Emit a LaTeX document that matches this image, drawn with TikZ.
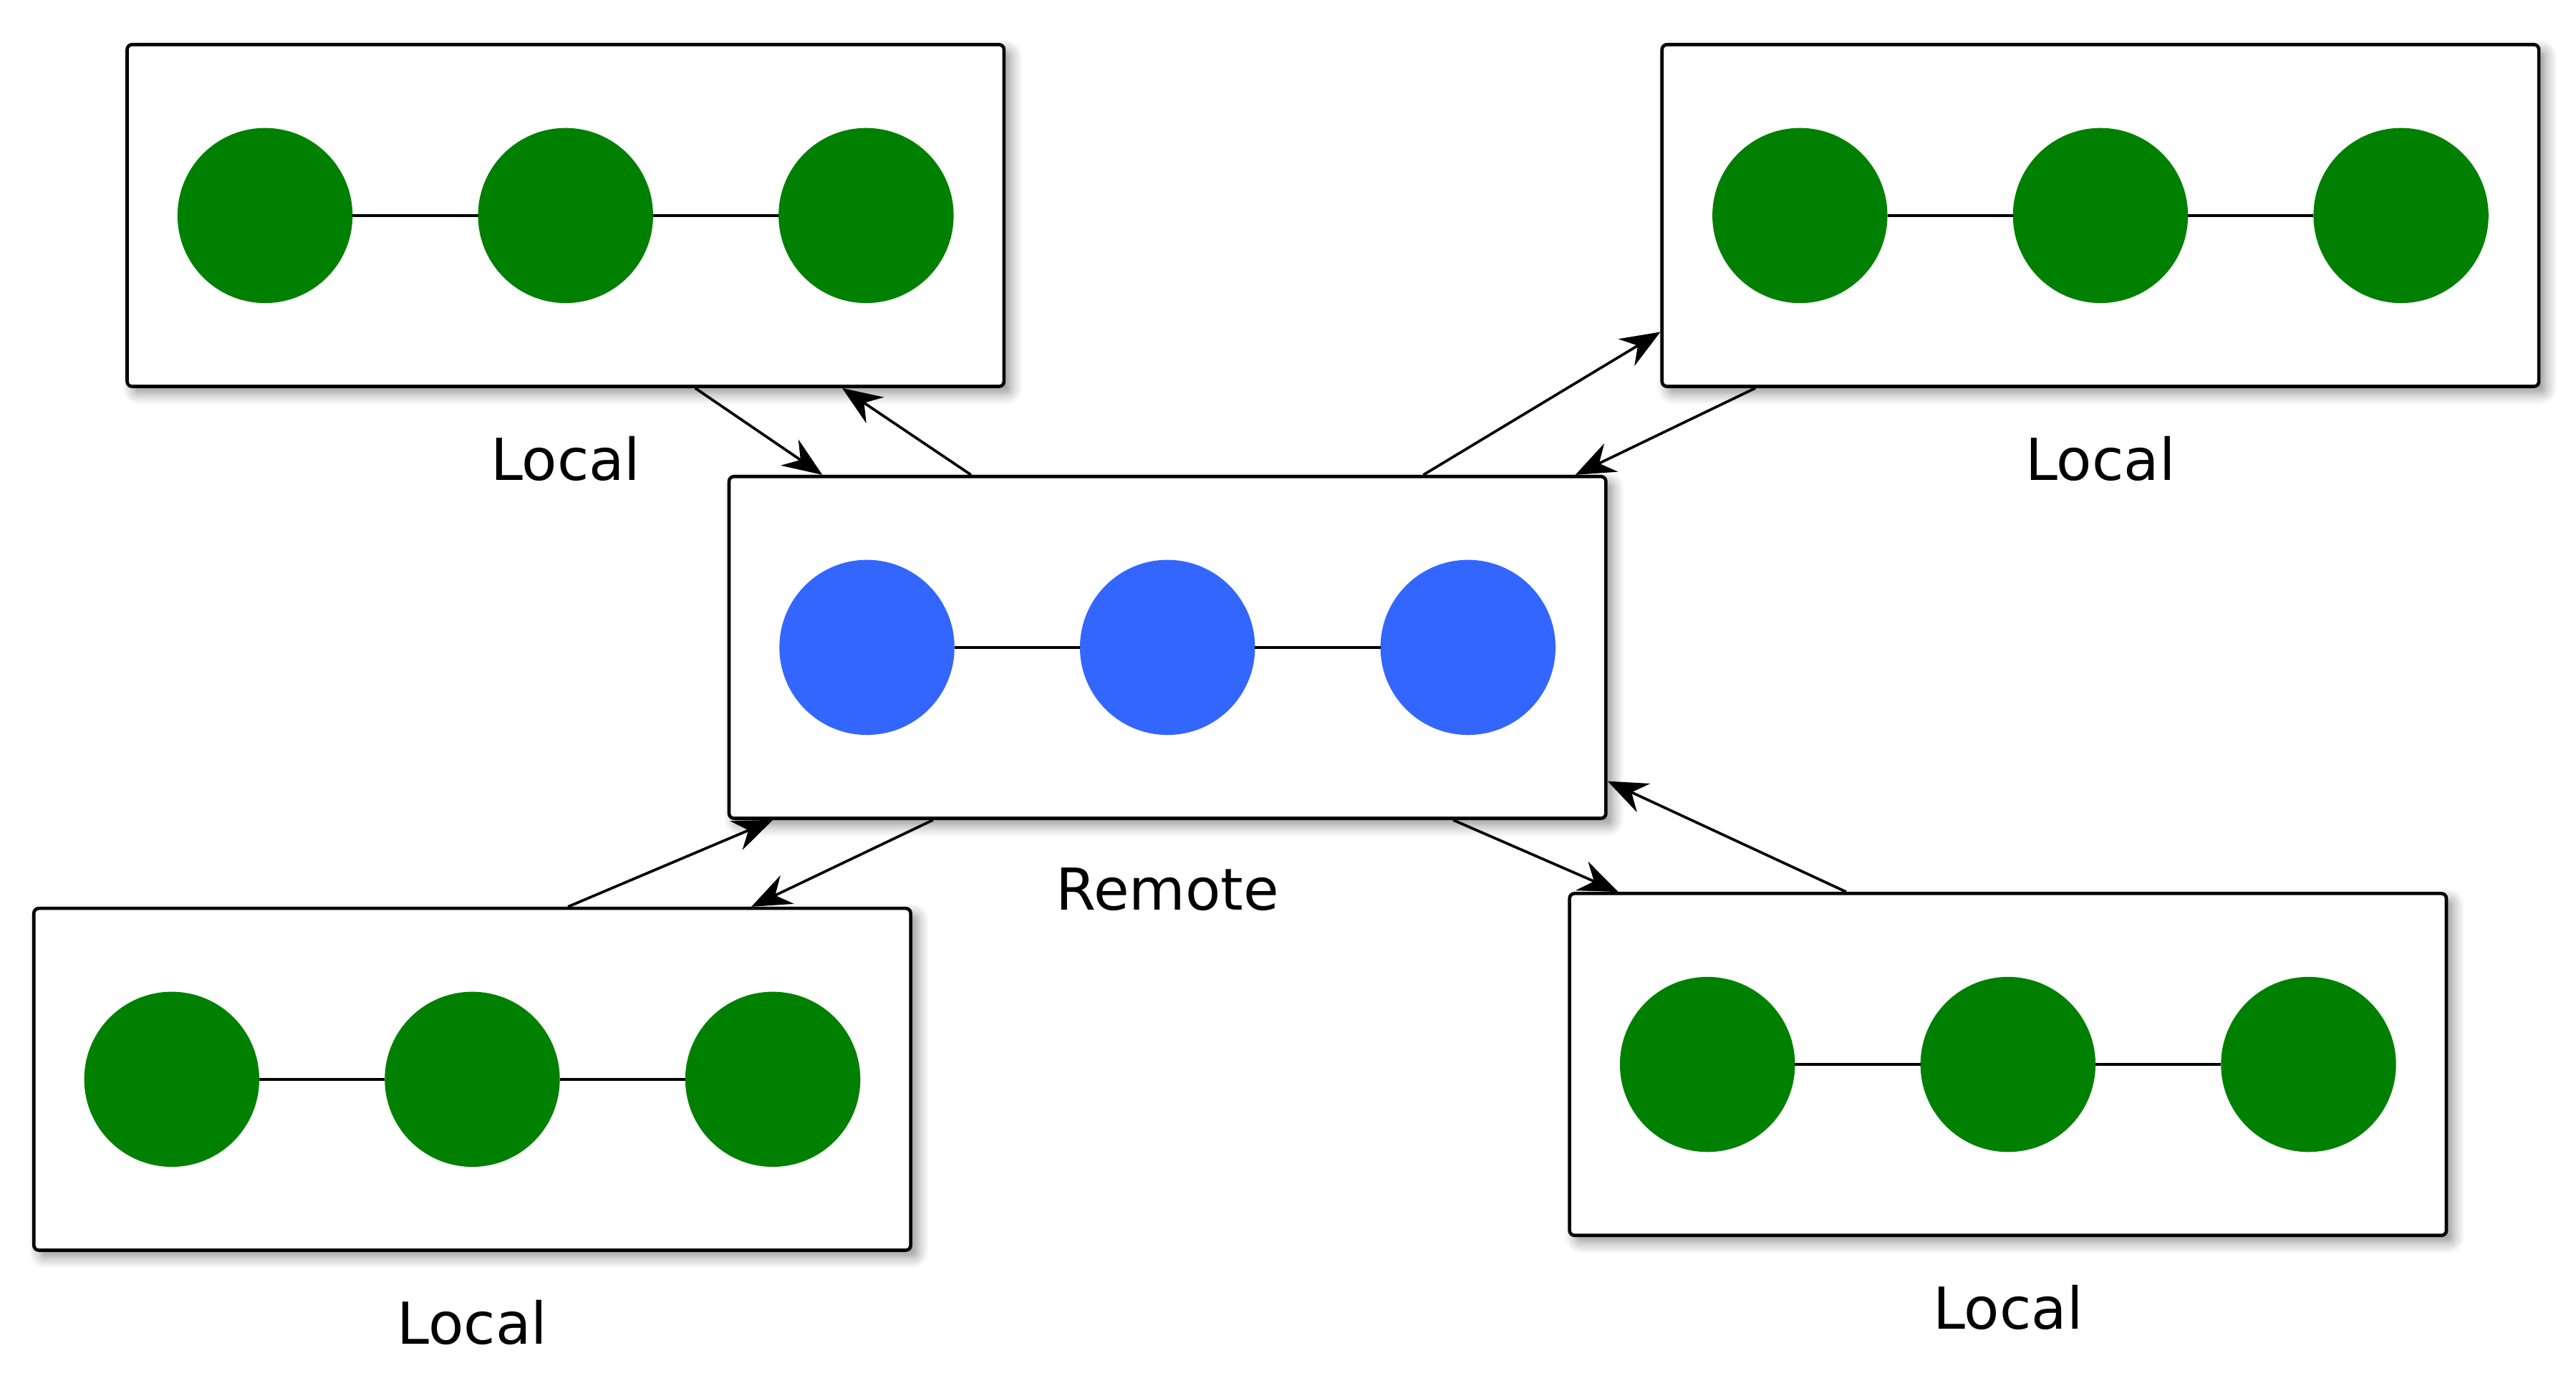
\documentclass[tikz,border=0pt]{standalone}
\usepackage{fontspec}
\setmainfont{DejaVu Sans}
\usepackage{tikz}
\usetikzlibrary{arrows.meta, positioning, shadows.blur}
\definecolor{localgreen}{HTML}{008000}
\definecolor{remoteblue}{HTML}{3366FF}
\tikzset{
  hostbox/.style = {rectangle, draw=black, fill=white, line width=2pt,
    rounded corners=3pt, minimum width=531pt, minimum height=207pt,
    blur shadow={shadow xshift=4pt, shadow yshift=-4pt,
      shadow blur radius=7pt, shadow blur steps=8, shadow opacity=45}},
  peer/.style = {circle, draw=none, minimum size=106pt, inner sep=0pt,
    outer sep=0pt},
  link/.style = {draw=black, line width=1.6pt},
  hostlabel/.style = {inner sep=0pt, font=\fontsize{35}{42}\selectfont},
  flow/.style = {link, ->}
}

\begin{document}
\begin{tikzpicture}[x=1pt, y=-1pt, >={Stealth[length=24pt, width=19pt, inset=8pt]}]
\useasboundingbox (0,0) rectangle (1560,842);
% hosts: box, three peers, label
\foreach \grp/\x/\y/\col/\txt in {tl/342.5/130.5/localgreen/Local,
    tr/1272/130.5/localgreen/Local, rm/707/392/remoteblue/Remote,
    bl/286/653.5/localgreen/Local, br/1216/644.5/localgreen/Local}
{
  \node [hostbox] (\grp) at (\x,\y) {};
  \node [peer, fill=\col] (\grp-b) at (\grp.center) {};
  \node [peer, fill=\col, left=76pt of \grp-b] (\grp-a) {};
  \node [peer, fill=\col, right=76pt of \grp-b] (\grp-c) {};
  \draw [link] (\grp-a) -- (\grp-b) -- (\grp-c);
  \node [hostlabel, below=29pt of \grp] (\grp-label) {\txt};
}
% exchanges with the remote
\draw [flow] ([xshift=78.5pt]tl.south) -- ([xshift=-209pt]rm.north);
\draw [flow] ([xshift=-119pt]rm.north) -- ([xshift=167.5pt]tl.south);
\draw [flow] ([xshift=155pt]rm.north) -- ([yshift=-70.5pt]tr.west);
\draw [flow] ([xshift=-209pt]tr.south) -- ([xshift=247pt]rm.north);
\draw [flow] ([xshift=58pt]bl.north) -- ([xshift=-239pt]rm.south);
\draw [flow] ([xshift=-142pt]rm.south) -- ([xshift=169pt]bl.north);
\draw [flow] ([xshift=173pt]rm.south) -- ([xshift=-236pt]br.north);
\draw [flow] ([xshift=-98pt]br.north) -- ([yshift=-81pt]rm.east);
\end{tikzpicture}
\end{document}
